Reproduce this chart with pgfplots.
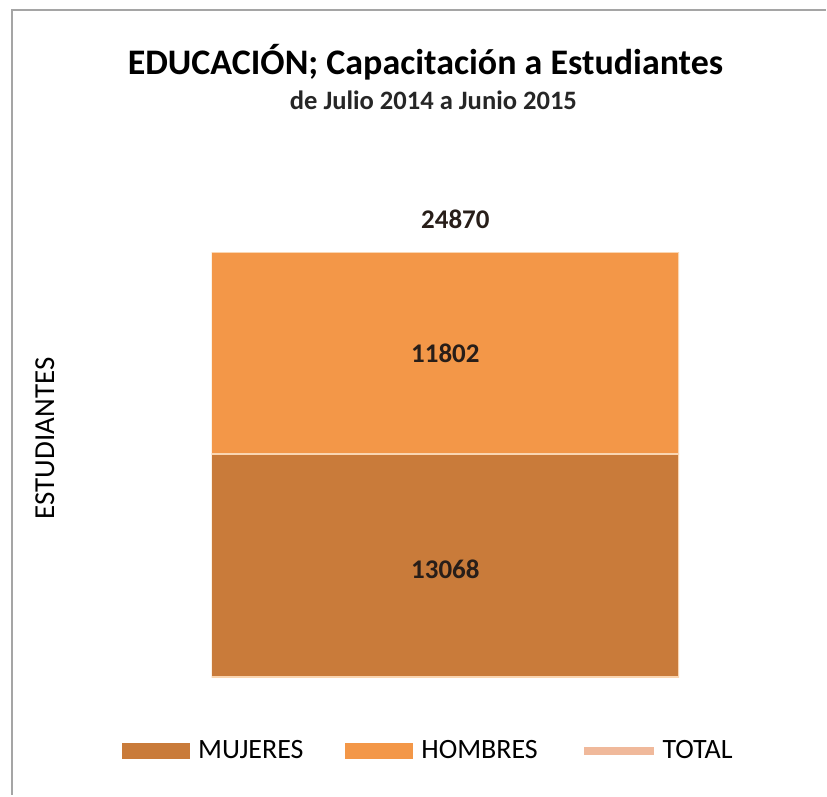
\documentclass[border=0pt]{standalone}
\usepackage{pgfplots}
\pgfplotsset{compat=1.18}
\usepackage{fontspec}
\setmainfont{Carlito}
\definecolor{muj}{RGB}{201,123,58}
\definecolor{hom}{RGB}{243,151,72}
\definecolor{tot}{RGB}{240,185,155}
\definecolor{edgec}{RGB}{250,214,178}
\definecolor{framec}{RGB}{165,165,165}
\definecolor{lab}{RGB}{40,30,25}
\begin{document}
\begin{tikzpicture}
\path (0,0) rectangle (413.5pt,398pt);
\draw[framec, line width=1.2pt] (6pt,0) -- (6pt,393pt) -- (413.5pt,393pt);
\node[font=\fontsize{18}{20}\selectfont\bfseries] at (213pt,367pt) {EDUCACIÓN; Capacitación a Estudiantes};
\node[font=\fontsize{13.3}{15}\selectfont\bfseries, text=black!85] at (217pt,348pt) {de Julio 2014 a Junio 2015};
\begin{axis}[
 at={(106pt,59pt)}, anchor=south west,
 scale only axis, width=234pt, height=239pt,
 xmin=-0.5, xmax=0.5, ymin=0, ymax=27971,
 axis line style={draw=none}, ticks=none,
 ybar stacked, bar width=234pt,
 ylabel={ESTUDIANTES},
 ylabel style={at={(axis description cs:-0.357,0.5)}, anchor=center, font=\fontsize{14.5}{16}\selectfont},
 legend columns=3,
 legend style={draw=none, fill=none, at={(axis description cs:0.466,-0.155)}, anchor=center,
   font=\fontsize{14}{16}\selectfont,
   /tikz/every even column/.append style={column sep=19pt}},
]
\addplot[fill=muj, draw=edgec, line width=0.8pt,
  legend image code/.code={\fill[muj, draw=none] (0pt,-4pt) rectangle (34pt,4pt);\path[draw=none, fill=none] (0pt,0pt) -- (36pt,0pt);}] coordinates {(0,13068)};
\addlegendentry{MUJERES}
\addplot[fill=hom, draw=edgec, line width=0.8pt,
  legend image code/.code={\fill[hom, draw=none] (0pt,-4pt) rectangle (34pt,4pt);\path[draw=none, fill=none] (0pt,0pt) -- (36pt,0pt);}] coordinates {(0,11802)};
\addlegendentry{HOMBRES}
\addlegendimage{legend image code/.code={\draw[tot, line width=4.5pt] (0pt,0pt) -- (35pt,0pt);}}
\addlegendentry{TOTAL}
\coordinate (lm) at (axis cs:0,6534);
\coordinate (lh) at (axis cs:0,18969);
\coordinate (lt) at (axis cs:0,24870);
\end{axis}
\node[font=\fontsize{13.5}{15}\selectfont\bfseries, text=lab, yshift=-2pt] at (lm) {13068};
\node[font=\fontsize{13.5}{15}\selectfont\bfseries, text=lab] at (lh) {11802};
\node[font=\fontsize{13.5}{15}\selectfont\bfseries, text=lab, xshift=5pt, yshift=16.5pt] at (lt) {24870};
\end{tikzpicture}
\end{document}
